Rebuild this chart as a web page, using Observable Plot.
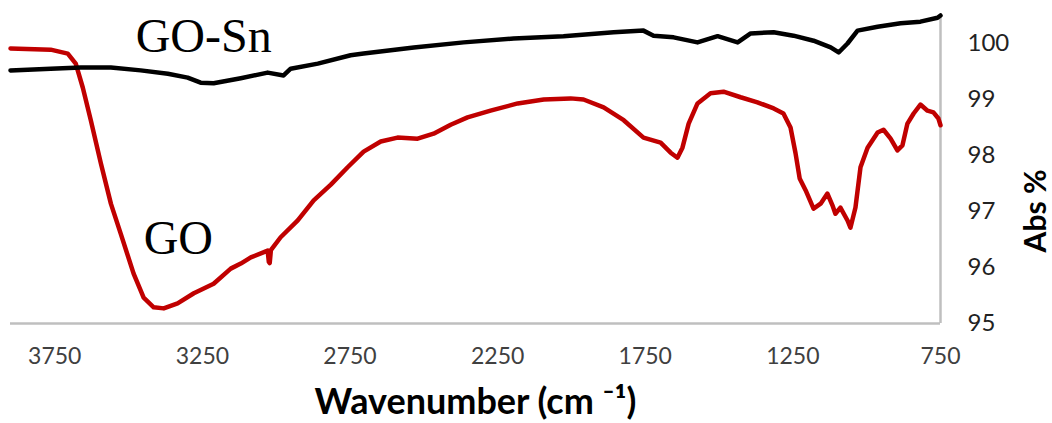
<!DOCTYPE html>
<html><head><meta charset="utf-8">
<script src="https://cdn.jsdelivr.net/npm/d3@7"></script>
<script src="https://cdn.jsdelivr.net/npm/@observablehq/plot@0.6"></script>
<style>body{margin:0;background:#fff;} svg{display:block}</style>
</head><body><div id="chart"></div>
<script>
// GO spectrum (red)
const goWavenumber = [3900,3764,3706,3679,3655,3628,3594,3560,3527,3483,3449,3415,3381,3334,3279,3212,3154,3120,3086,3029,3025,3022,3018,2985,2927,2873,2815,2758,2704,2646,2589,2521,2467,2409,2352,2274,2182,2094,2003,1959,1891,1823,1756,1698,1664,1641,1624,1603,1573,1529,1485,1427,1370,1315,1282,1258,1241,1227,1207,1180,1156,1133,1116,1106,1089,1065,1055,1038,1021,997,963,943,919,896,879,862,841,818,794,774,757,750];
const goAbs = [99.91,99.89,99.82,99.64,99.21,98.63,97.86,97.14,96.61,95.89,95.46,95.29,95.27,95.36,95.54,95.71,95.98,96.07,96.18,96.30,96.10,96.08,96.31,96.54,96.84,97.20,97.48,97.79,98.07,98.25,98.32,98.30,98.39,98.55,98.68,98.80,98.93,99.00,99.02,99.00,98.86,98.63,98.32,98.23,98.05,97.96,98.14,98.57,98.93,99.11,99.14,99.04,98.95,98.84,98.75,98.50,98.04,97.59,97.38,97.05,97.14,97.32,97.11,96.96,97.07,96.84,96.71,97.07,97.79,98.14,98.41,98.46,98.30,98.09,98.18,98.57,98.75,98.91,98.80,98.77,98.66,98.54];
// GO-Sn spectrum (black)
const gosnWavenumber = [3900,3764,3662,3560,3459,3367,3300,3256,3212,3120,3029,2975,2951,2859,2748,2704,2534,2365,2196,2027,1857,1756,1722,1654,1573,1505,1437,1393,1315,1248,1180,1122,1095,1065,1031,963,885,818,760,750];
const gosnAbs = [99.52,99.55,99.57,99.57,99.52,99.46,99.39,99.30,99.29,99.38,99.48,99.43,99.55,99.64,99.79,99.82,99.93,100.02,100.09,100.13,100.20,100.23,100.14,100.11,100.02,100.13,100.02,100.18,100.20,100.14,100.05,99.93,99.84,100.00,100.23,100.30,100.36,100.39,100.46,100.50];

const seriesNames = ["GO", "GO-Sn"];
const seriesColors = ["#C00000", "#000000"];
const xTickValues = [3750, 3250, 2750, 2250, 1750, 1250, 750];
const yTickValues = [95, 96, 97, 98, 99, 100];
const xTitle = "Wavenumber (cm \u207B\u00B9)";
const yTitle = "Abs %";

const rows = [
  ...goWavenumber.map((w, i) => ({series: seriesNames[0], wn: w, abs: goAbs[i]})),
  ...gosnWavenumber.map((w, i) => ({series: seriesNames[1], wn: w, abs: gosnAbs[i]}))
];

const chart = Plot.plot({
  width: 1052,
  height: 423,
  marginLeft: 10,
  marginRight: 112,
  marginTop: 15,
  marginBottom: 100,
  style: {fontFamily: "Lato, 'Open Sans', sans-serif", background: "#fff"},
  x: {domain: [3900, 750]},
  y: {domain: [95, 100.5]},
  color: {domain: seriesNames, range: seriesColors},
  marks: [
    Plot.ruleY([95], {stroke: "#bfbfbf", strokeWidth: 2.5}),
    Plot.ruleX([750], {stroke: "#bfbfbf", strokeWidth: 2.5}),
    Plot.axisX({ticks: xTickValues, tickSize: 0, tickPadding: 24, tickFormat: d => String(d), fontSize: 23, color: "#404040", label: null}),
    Plot.axisY({anchor: "right", ticks: yTickValues, tickSize: 0, tickPadding: 27, tickFormat: d => String(d), fontSize: 24, color: "#222", label: null}),
    Plot.line(rows, {x: "wn", y: "abs", z: "series", stroke: "series", strokeWidth: 4.5, strokeLinejoin: "round"}),
    Plot.text([{label: seriesNames[1], wn: 3476, abs: 100.12}], {x: "wn", y: "abs", text: "label", textAnchor: "start", lineAnchor: "middle", fontFamily: "'Liberation Serif', 'DejaVu Serif', serif", fontSize: 48, fill: "#000"}),
    Plot.text([{label: seriesNames[0], wn: 3449, abs: 96.51}], {x: "wn", y: "abs", text: "label", textAnchor: "start", lineAnchor: "middle", fontFamily: "'Liberation Serif', 'DejaVu Serif', serif", fontSize: 48, fill: "#000"}),
    Plot.text([yTitle], {frameAnchor: "right", dx: 96, rotate: -90, fontWeight: "bold", fontSize: 30, fill: "#000"}),
    Plot.text([xTitle], {frameAnchor: "bottom", dy: 90, fontWeight: "bold", fontSize: 36, fill: "#000"})
  ]
});
document.getElementById("chart").appendChild(chart);
</script>
</body></html>
